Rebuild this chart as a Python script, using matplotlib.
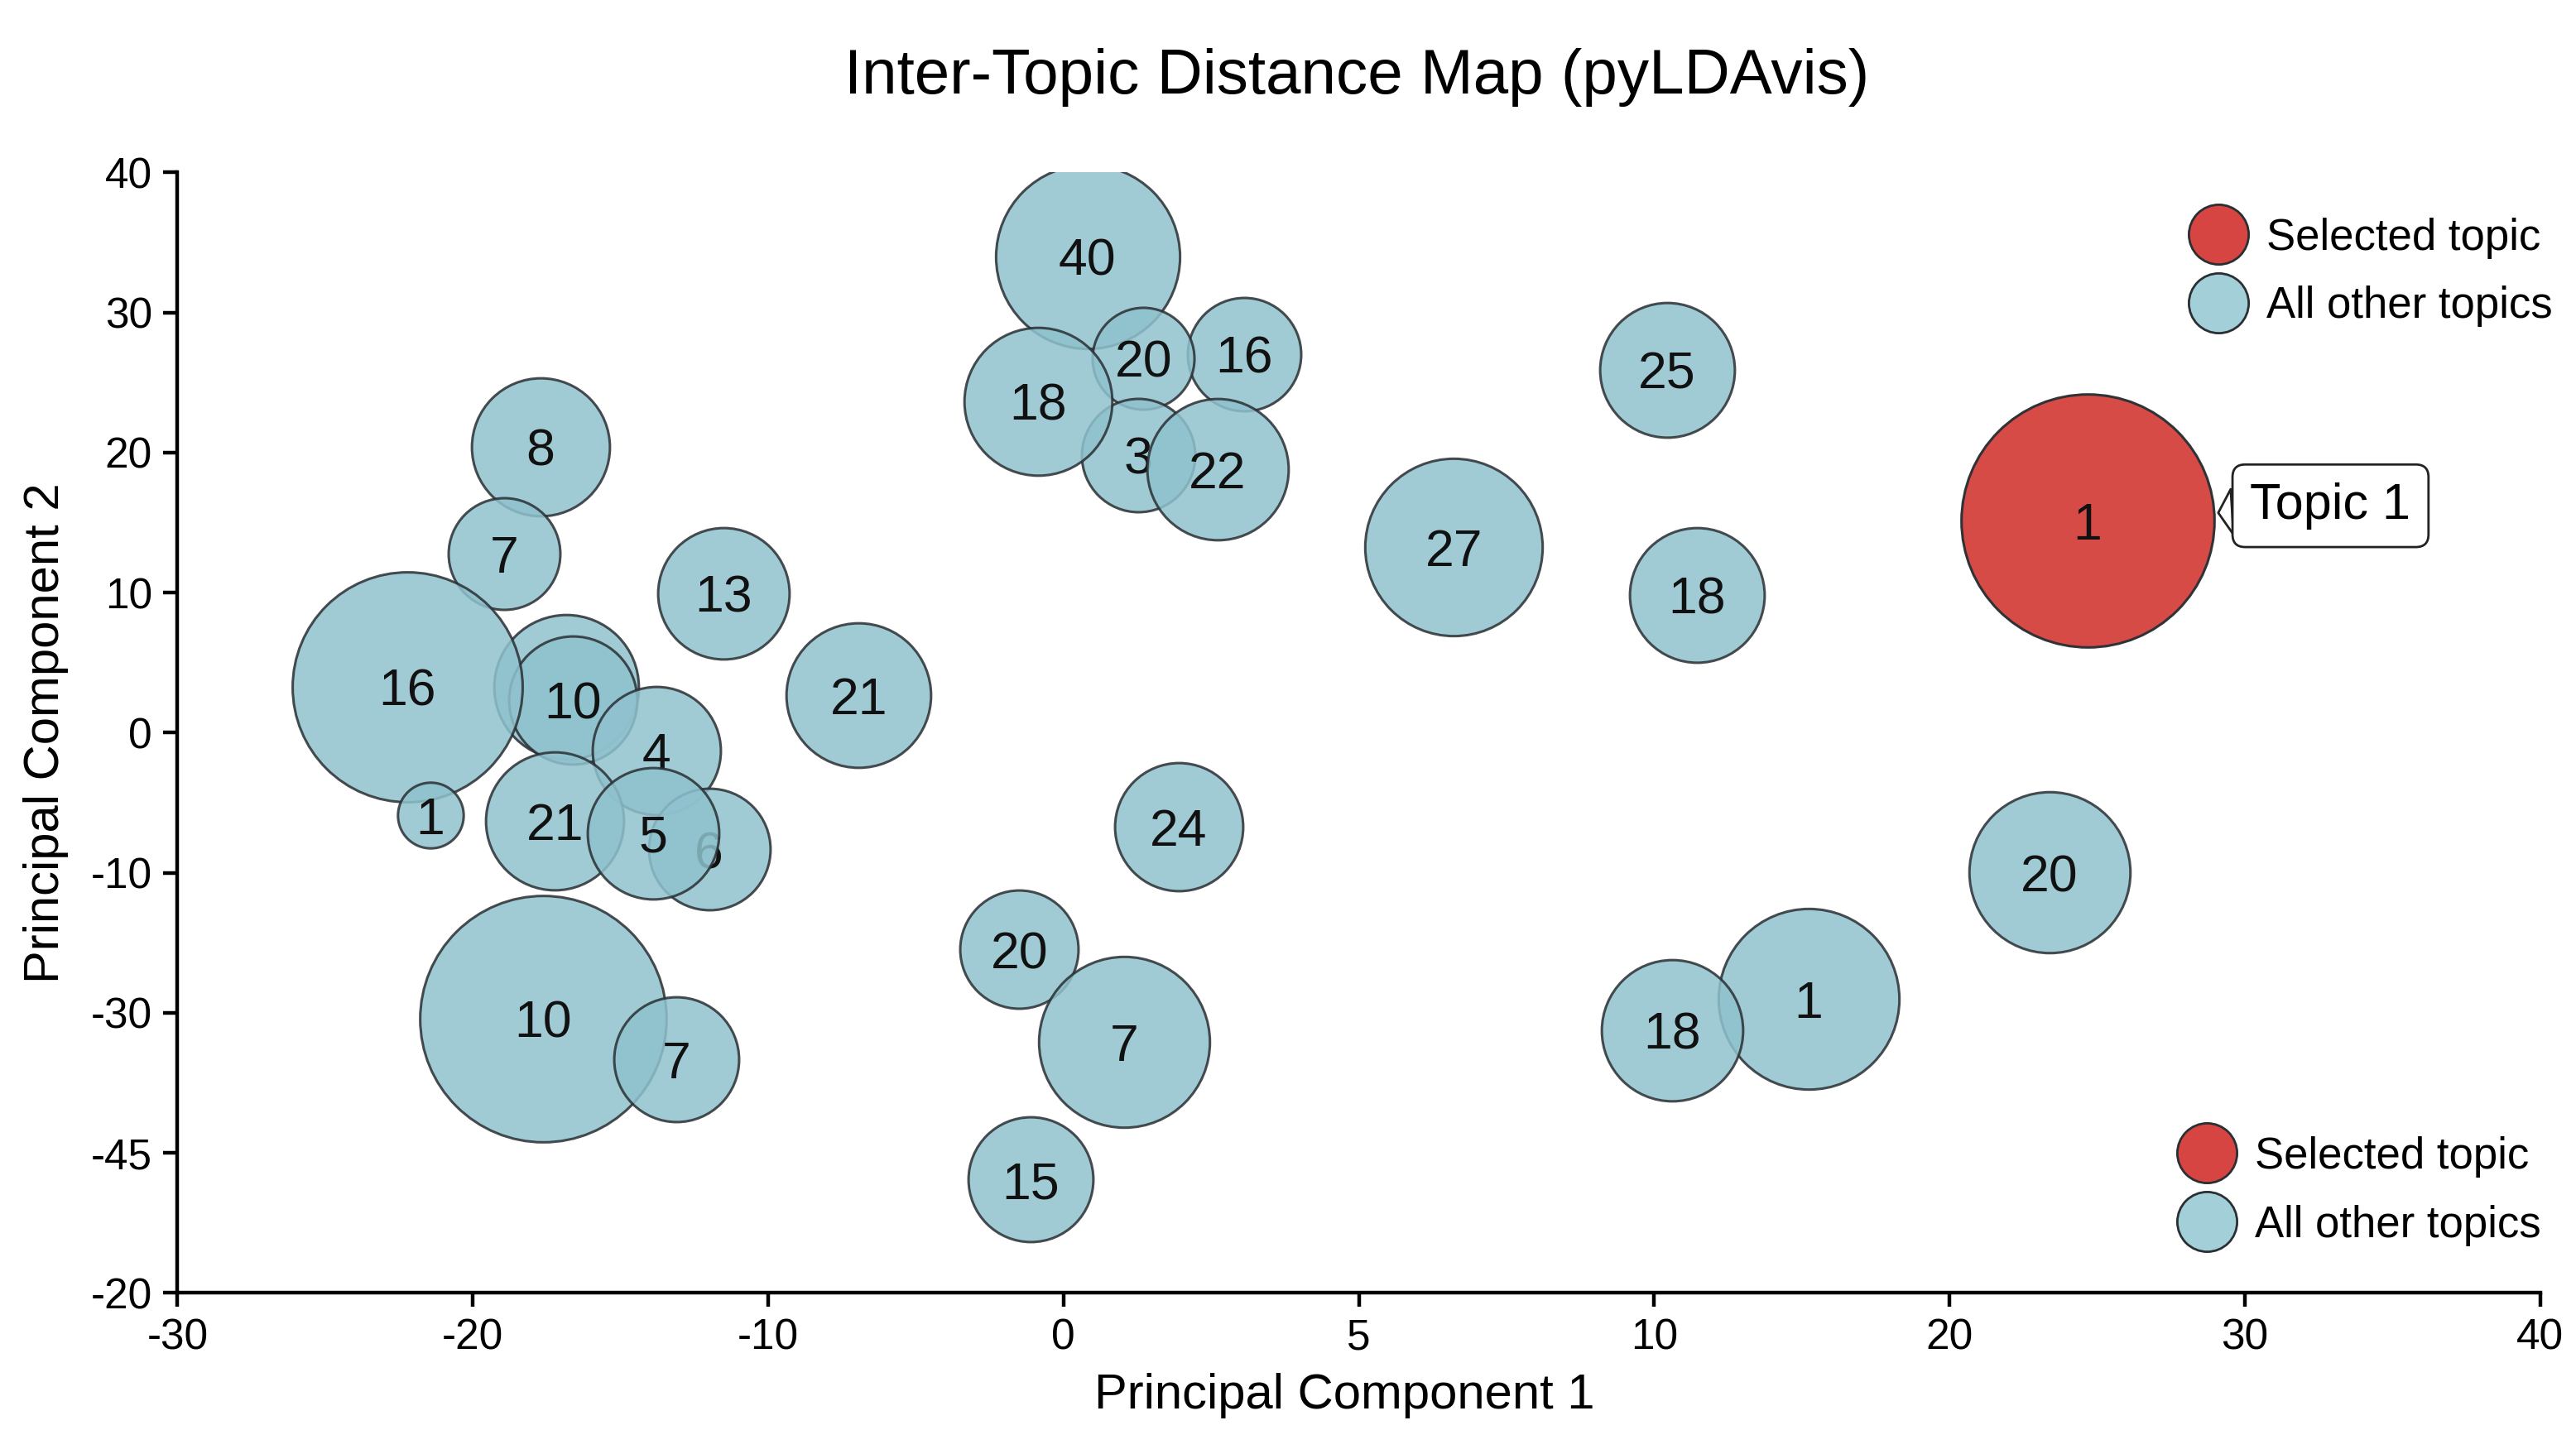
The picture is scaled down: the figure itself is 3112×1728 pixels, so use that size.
import numpy as np
import matplotlib
matplotlib.use("Agg")
import matplotlib.pyplot as plt
from matplotlib.lines import Line2D

plt.rcParams['font.family'] = ['Liberation Sans', 'DejaVu Sans']

# topics, in drawing order (later ones sit on top)
labels = ["40", "16", "20", "3", "18", "22",
          "25", "8", "7", "27", "18", "13", "21", "24", "20", "20", "15", "7", "1", "18",
          "", "10", "16", "1", "4", "21", "6", "5", "10", "7",
          "1"]
pc1 = [0.81, 6.12, 2.71, 2.54, -0.85, 5.22,
       20.44, -17.72, -18.94, 13.22, 21.44, -11.5, -6.94, 3.89, 33.39, -1.5, -1.11, 2.06, 25.22, 20.61,
       -16.83, -16.61, -22.22, -21.44, -13.78, -17.22, -12.0, -13.89, -17.61, -13.11,
       34.67]
pc2 = [34.0, 27.03, 26.73, 19.82, 23.66, 18.82,
       25.92, 20.41, 12.79, 13.25, 9.85, 9.97, 2.70, -6.69, -9.97, -15.48, -31.91, -22.05, -19.0, -21.23,
       3.28, 2.35, 3.28, -5.86, -1.29, -6.33, -8.33, -7.16, -20.41, -23.34,
       15.13]
topic_size = [56, 34.5, 31, 34.5, 45, 43,
              41, 42, 34, 54, 41, 40, 44, 39, 49, 36, 38, 52, 55, 43,
              44, 39, 70, 20, 39, 42, 37, 40, 75, 38,
              77]
selected = 30  # index of the selected topic

xtick_labels = ["-30", "-20", "-10", "0", "5", "10", "20", "30", "40"]
ytick_labels = ["40", "30", "20", "10", "0", "-10", "-30", "-45", "-20"]

blue = "#8fc2ce"
red = "#d64541"
edge = "#2a2f33"

fig = plt.figure(figsize=(15.56, 8.64), dpi=200)
ax = fig.add_axes([0.0689, 0.0959, 0.9172, 0.7835])

for i in range(len(labels)):
    s = (topic_size[i] * 1.429) ** 2
    if i == selected:
        ax.scatter(pc1[i], pc2[i], s=s, color=red, alpha=0.97, edgecolors=edge,
                   linewidths=1.1, zorder=2 * i + 2)
    else:
        ax.scatter(pc1[i], pc2[i], s=s, color=blue, alpha=0.85, edgecolors=edge,
                   linewidths=1.1, zorder=2 * i + 2)
    ax.text(pc1[i], pc2[i], labels[i], ha="center", va="center_baseline", fontsize=22.5,
            color="#111111", zorder=2 * i + 3)

ax.annotate("Topic 1", xy=(39.1, 15.7), xytext=(42.9, 16.2), ha="center", va="center",
            fontsize=22, zorder=200,
            bbox=dict(boxstyle="round,pad=0.35,rounding_size=0.25", fc="white", ec="#222222", lw=1.0),
            arrowprops=dict(arrowstyle="wedge,tail_width=0.9", fc="white", ec="#222222", lw=1.0,
                            shrinkA=0, shrinkB=0))

ax.set_xlim(-30, 50)
ax.set_ylim(-40, 40)
ax.set_xticks(np.arange(-30, 51, 10))
ax.set_xticklabels(xtick_labels)
ax.set_yticks(np.arange(40, -41, -10))
ax.set_yticklabels(ytick_labels)
ax.tick_params(labelsize=18.5, length=6, width=1.6, direction="out", pad=5)
for sp in ["top", "right"]:
    ax.spines[sp].set_visible(False)
for sp in ["left", "bottom"]:
    ax.spines[sp].set_linewidth(1.6)

handles = [Line2D([], [], ls="none", marker="o", markersize=26, mfc=red, mec=edge, mew=1.0),
           Line2D([], [], ls="none", marker="o", markersize=26, mfc="#a3cfd8", mec=edge, mew=1.0)]
names = ["Selected topic", "All other topics"]
leg1 = ax.legend(handles, names, loc="upper right", bbox_to_anchor=(1.022, 0.995), frameon=False,
                 fontsize=19, handlelength=1.3, handletextpad=0.45, labelspacing=0.62)
ax.add_artist(leg1)
ax.legend(handles, names, loc="upper right", bbox_to_anchor=(1.017, 0.175), frameon=False,
          fontsize=19, handlelength=1.3, handletextpad=0.45, labelspacing=0.62)

fig.text(0.5266, 0.946, "Inter-Topic Distance Map (pyLDAvis)", ha="center", va="center", fontsize=27.5)
fig.text(0.5218, 0.024, "Principal Component 1", ha="center", va="center", fontsize=21.5)
fig.text(0.0179, 0.4877, "Principal Component 2", ha="center", va="center", fontsize=21.5,
         rotation=90)

fig.savefig("out.png", dpi=200)
